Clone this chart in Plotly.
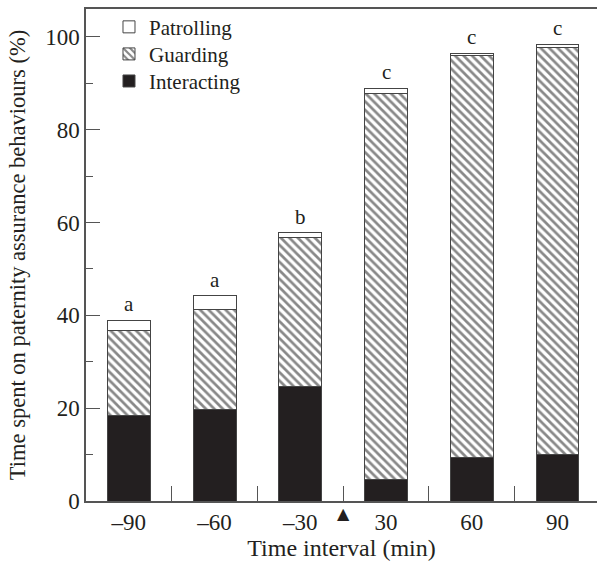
import plotly.graph_objects as go

categories = ["–90", "–60", "–30", "30", "60", "90"]
interacting = [18.5, 19.8, 24.6, 4.7, 9.3, 10.1]
guarding = [18.2, 21.5, 32.1, 83.0, 86.6, 87.5]
patrolling = [2.2, 2.9, 1.1, 1.2, 0.6, 0.8]
letters = ["a", "a", "b", "c", "c", "c"]

FONT = "Liberation Serif"
line = dict(color="#444444", width=1)

fig = go.Figure()
fig.add_bar(x=categories, y=interacting, name="Interacting", legend="legend3",
            marker=dict(color="#231f20", line=line), width=0.5)
fig.add_bar(x=categories, y=guarding, name="Guarding", legend="legend2",
            marker=dict(color="white", line=line,
                        pattern=dict(shape="\\", fgcolor="#111111", bgcolor="white",
                                     size=6, solidity=0.45)), width=0.5)
fig.add_bar(x=categories, y=patrolling, name="Patrolling", legend="legend",
            marker=dict(color="white", line=line), width=0.5)

totals = [a + b + c for a, b, c in zip(interacting, guarding, patrolling)]
for i, (t, l) in enumerate(zip(totals, letters)):
    fig.add_annotation(x=i, y=t, text=l, showarrow=False, yanchor="bottom",
                       yshift=2, font=dict(family=FONT, size=21, color="#231f20"))

fig.add_annotation(x=2.5, y=0, yref="paper", text="▲", showarrow=False,
                   yanchor="top", yshift=-1,
                   font=dict(family="DejaVu Sans", size=16, color="#231f20"))

leg = dict(x=0.045, xanchor="left", yanchor="middle",
           font=dict(family=FONT, size=21), bgcolor="rgba(0,0,0,0)", itemwidth=30)

fig.update_layout(
    barmode="stack",
    width=597, height=562,
    margin=dict(l=86, r=0, t=9, b=61),
    plot_bgcolor="white", paper_bgcolor="white",
    font=dict(family=FONT, size=22, color="#231f20"),
    showlegend=True,
    legend=dict(leg, y=0.963),
    legend2=dict(leg, y=0.908),
    legend3=dict(leg, y=0.853),
    xaxis=dict(range=[-0.5, 5.46], showline=True, linecolor="#555555", linewidth=1.5,
               mirror=True, ticks="inside", tickson="boundaries", ticklen=15,
               tickcolor="#555555", tickwidth=1,
               title=dict(text="Time interval (min)", font=dict(size=24), standoff=1),
               tickfont=dict(size=23)),
    yaxis=dict(range=[0, 106], showline=True, linecolor="#555555", linewidth=1.5,
               ticks="inside", ticklen=14, tickcolor="#555555", tickwidth=1,
               tickvals=[0, 20, 40, 60, 80, 100], showgrid=False, zeroline=False,
               minor=dict(tickvals=[10, 30, 50, 70, 90], ticks="inside", ticklen=7,
                          tickcolor="#555555"),
               title=dict(text="Time spent on paternity assurance behaviours (%)",
                          font=dict(size=22.5), standoff=13),
               tickfont=dict(size=23)),
)

fig.write_html("out.html")
